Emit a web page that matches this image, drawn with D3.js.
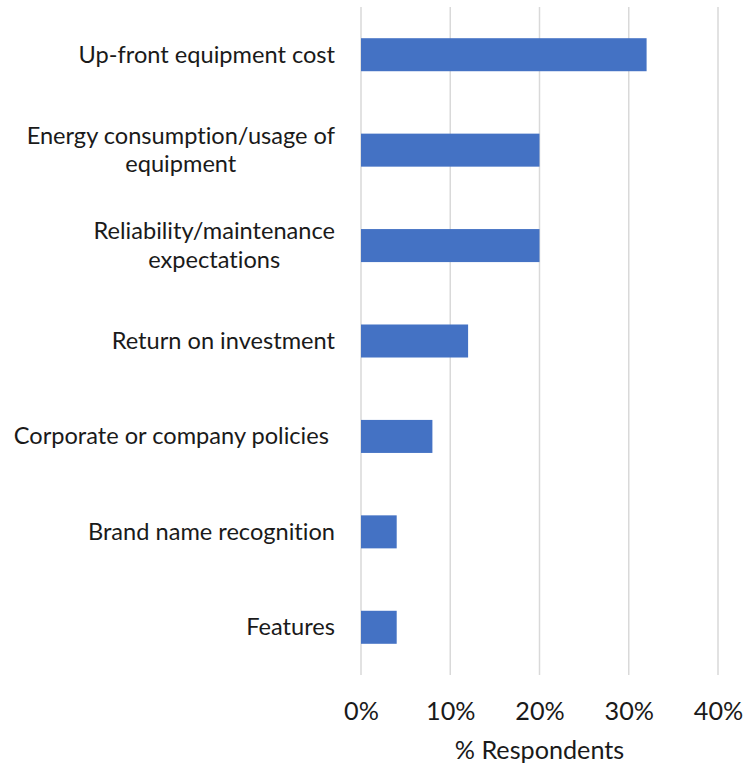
<!DOCTYPE html>
<html>
<head>
<meta charset="utf-8">
<script src="https://cdn.jsdelivr.net/npm/d3@7"></script>
<style>
  html, body { margin: 0; padding: 0; background: #fff; }
  svg text {
    font-family: Lato, "Open Sans", sans-serif;
    fill: #1a1a1a;
    font-variant-ligatures: none;
    font-feature-settings: "liga" 0, "clig" 0;
  }
</style>
</head>
<body>
<svg id="chart" width="743" height="767"></svg>
<script>
// Purchase decision factors, share of respondents
const categories = [
  ["Up-front equipment cost"],
  ["Energy consumption/usage of", "equipment"],
  ["Reliability/maintenance", "expectations"],
  ["Return on investment"],
  ["Corporate or company policies "],
  ["Brand name recognition"],
  ["Features"]
];
const values = [0.32, 0.20, 0.20, 0.12, 0.08, 0.04, 0.04];
const tickValues = [0, 0.1, 0.2, 0.3, 0.4];
const axisTitle = "% Respondents";

const svg = d3.select("#chart");
const plotLeft = 361, plotRight = 718, plotTop = 7, plotBottom = 675;
const labelFont = 23.6;
const axisFont = 25.2;

const x = d3.scaleLinear().domain([0, 0.4]).range([plotLeft, plotRight]);
const y = d3.scaleBand()
  .domain(d3.range(categories.length))
  .range([plotTop, plotBottom])
  .paddingInner(0.654)
  .paddingOuter(0.327);

// vertical gridlines
svg.append("g").selectAll("line")
  .data(tickValues)
  .join("line")
  .attr("x1", d => x(d)).attr("x2", d => x(d))
  .attr("y1", plotTop).attr("y2", plotBottom)
  .attr("stroke", "#d9d9d9")
  .attr("stroke-width", 1.5);

// bars
svg.append("g").selectAll("rect")
  .data(values)
  .join("rect")
  .attr("x", x(0))
  .attr("y", (d, i) => y(i))
  .attr("width", d => x(d) - x(0))
  .attr("height", y.bandwidth())
  .attr("fill", "#4472c4");

// x tick labels
const xAxis = d3.axisBottom(x)
  .tickValues(tickValues)
  .tickFormat(d3.format(".0%"))
  .tickSize(0)
  .tickPadding(0);
const gx = svg.append("g").attr("transform", `translate(0, 700)`).call(xAxis);
gx.select(".domain").remove();
gx.attr("font-family", null).attr("font-size", null);
gx.selectAll("text")
  .attr("font-size", axisFont)
  .attr("fill", null)
  .attr("dy", null)
  .attr("y", 20);

// axis title
svg.append("text")
  .attr("x", x(0.2))
  .attr("y", 759)
  .attr("text-anchor", "middle")
  .attr("font-size", axisFont)
  .text(axisTitle);

// category labels: block right-aligned at labelRight, lines centred within block
const labelRight = 335;
const lineH = 28.5;
const gl = svg.append("g");
categories.forEach((lines, i) => {
  const cy = y(i) + y.bandwidth() / 2;
  const t = gl.append("text")
    .attr("font-size", labelFont)
    .attr("text-anchor", "middle")
    .style("white-space", "pre");
  const spans = lines.map((ln, j) => t.append("tspan")
    .attr("y", cy + (j - (lines.length - 1) / 2) * lineH + 8)
    .text(ln));
  const w = d3.max(spans, s => s.node().getComputedTextLength());
  spans.forEach(s => s.attr("x", labelRight - w / 2));
});
</script>
</body>
</html>
